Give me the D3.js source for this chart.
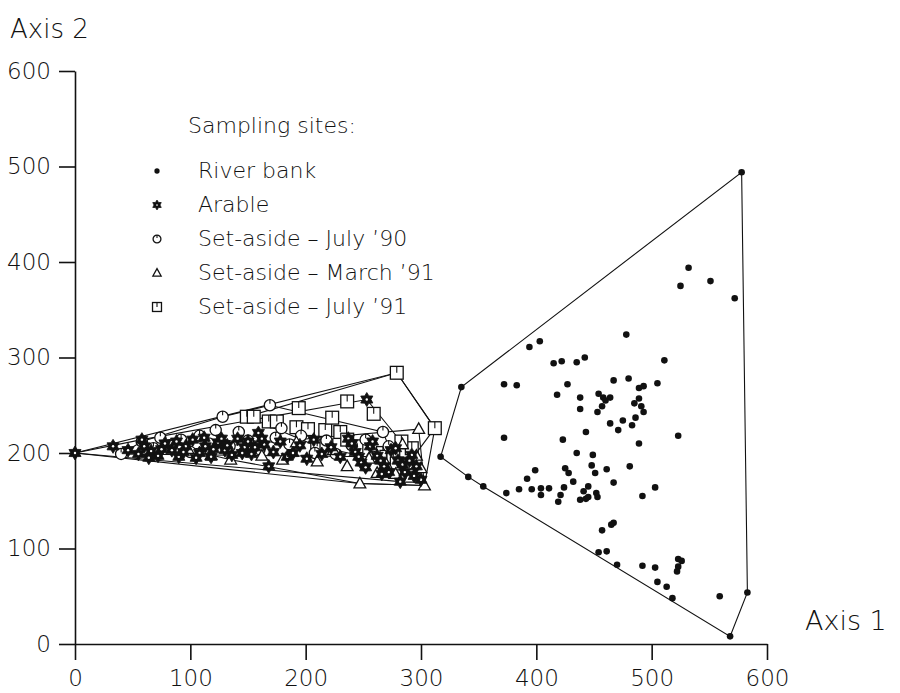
<!DOCTYPE html>
<html>
<head>
<meta charset="utf-8">
<script src="https://cdn.jsdelivr.net/npm/d3@7"></script>
<style>
  body { margin: 0; background: #fff; }
  svg text { font-family: "DejaVu Sans", sans-serif; font-weight: 200; fill: #111; }
</style>
</head>
<body>
<svg id="chart" width="900" height="693"></svg>
<script>
// Ordination scores (Axis 1, Axis 2) per sampling site group
const riverBank = [
  [578,494],[583,54],[568,8],[518,48],[470,83],[461,97],[454,96],[354,165],[341,175],[317,196],[335,269],
  [394,311],[403,317],[415,294],[422,296],[435,295],[442,300],[478,324],[532,394],[551,380],[525,375],[572,362],[511,297],
  [467,276],[480,278],[372,272],[383,271],[427,272],[505,273],[489,268],[493,270],[418,261],[438,258],[438,246],
  [454,262],[458,258],[464,258],[460,255],[457,249],[453,243],[485,252],[489,257],[491,249],[493,243],
  [464,231],[475,234],[486,237],[483,229],[471,224],[443,222],[423,214],[372,216],[489,210],[523,218],
  [435,200],[449,198],[448,187],[451,179],[461,183],[481,186],[399,182],[425,184],[428,179],[432,170],[392,173],[467,169],
  [503,164],[492,155],[385,162],[396,162],[404,163],[411,163],[404,156],[424,164],[421,156],[419,149],[374,158],
  [445,165],[441,160],[438,151],[443,152],[445,154],[452,158],[453,154],
  [467,127],[465,125],[457,119],[492,82],[503,80],[523,89],[526,87],[523,81],[522,76],[505,65],[513,60],[559,50]
];

const arable = [
  [0,200],[33,207],[46,203],[55,199],[60,207],[66,202],[72,197],[78,210],[84,203],[90,196],[96,207],
  [102,214],[108,200],[113,207],[118,196],[124,211],[130,203],[136,198],[141,215],[147,206],[153,199],
  [159,221],[164,209],[168,186],[172,201],[178,212],[184,196],[189,200],[195,208],[201,194],[207,214],
  [214,199],[222,206],[230,196],[237,215],[243,201],[248,190],[253,256],[256,207],[262,197],[268,186],
  [274,203],[280,192],[286,180],[292,198],[296,186],[300,172],
  [58,214],[64,195],[75,204],[88,212],[94,201],[105,195],[112,216],[120,204],[127,215],[132,208],
  [145,200],[150,212],[156,206],[162,215],[240,210],[246,196],[252,185],[258,212],[265,192],[272,180],
  [278,205],[284,188],[290,192],[294,176],[266,178],[282,170]
];

const setAsideJul90 = [
  [40,199],[58,212],[68,205],[74,216],[82,208],[92,214],[100,201],[108,218],[116,210],[122,224],
  [128,238],[134,207],[142,222],[150,213],[160,204],[169,250],[174,216],[179,226],[186,209],[196,218],
  [208,200],[218,213],[226,199],[240,208],[252,214],[267,222],[258,196],[272,207]
];

const setAsideMar91 = [
  [98,204],[118,198],[135,193],[150,204],[162,197],[180,193],[192,211],[210,191],[224,203],[236,186],
  [247,168],[255,194],[262,179],[270,188],[278,178],[284,209],[290,174],[296,197],[298,225],[300,184],[303,166]
];

const setAsideJul91 = [
  [149,238],[155,238],[168,233],[175,233],[192,227],[194,247],[202,225],[210,207],[217,224],[218,208],
  [223,237],[230,222],[236,254],[236,214],[244,207],[259,241],[267,200],[270,196],[276,196],[279,284],
  [279,189],[288,187],[312,226],[292,205],[283,212]
];

const xTicks = [0, 100, 200, 300, 400, 500, 600];
const yTicks = [0, 100, 200, 300, 400, 500, 600];
const legendTitle = "Sampling sites:";
const legendLabels = ["River bank", "Arable", "Set-aside \u2013 July \u201990", "Set-aside \u2013 March \u201991", "Set-aside \u2013 July \u201991"];

const svg = d3.select("#chart");
const x = d3.scaleLinear().domain([0, 600]).range([75, 767]);
const y = d3.scaleLinear().domain([0, 600]).range([644, 71]);

// Axes
function styleAxis(g) {
  g.attr("font-family", null).attr("font-size", null);
  g.selectAll("path.domain").attr("stroke", "#111").attr("stroke-width", 1.6);
  g.selectAll(".tick line").attr("stroke", "#111").attr("stroke-width", 1.6);
  g.selectAll(".tick text").style("font-size", "23px").attr("fill", "#111");
}
svg.append("g")
  .attr("transform", "translate(0,644)")
  .call(d3.axisBottom(x).tickValues(xTicks).tickSize(16).tickSizeOuter(0).tickPadding(10))
  .call(styleAxis);
svg.append("g")
  .attr("transform", "translate(75,0)")
  .call(d3.axisLeft(y).tickValues(yTicks).tickSize(16).tickSizeOuter(0).tickPadding(8))
  .call(styleAxis);

svg.append("text").attr("x", 10).attr("y", 38).style("font-size", "26px").text("Axis 2");
svg.append("text").attr("x", 805).attr("y", 630).style("font-size", "27px").text("Axis 1");

// Convex hulls
const toPx = p => [x(p[0]), y(p[1])];
function hullPath(points) {
  const h = d3.polygonHull(points.map(toPx));
  return "M" + h.map(p => p.join(",")).join("L") + "Z";
}
const hulls = svg.append("g").attr("fill", "none").attr("stroke", "#111").attr("stroke-width", 1.1);
const allFarmland = arable.concat(setAsideJul90, setAsideMar91, setAsideJul91);
[riverBank, allFarmland, arable, setAsideJul90, setAsideMar91, setAsideJul91].forEach(pts => {
  hulls.append("path").attr("d", hullPath(pts));
});

// Symbol drawers (k = scale factor)
function hexagram(r1, r2) {
  const pts = d3.range(12).map(i => {
    const a = i * Math.PI / 6 - Math.PI / 2;
    const r = i % 2 === 0 ? r1 : r2;
    return [r * Math.cos(a), r * Math.sin(a)];
  });
  return "M" + pts.map(p => p.map(v => v.toFixed(2)).join(",")).join("L") + "Z";
}
const drawers = {
  dot(g, k) { g.append("circle").attr("r", 3.3 * k).attr("fill", "#111"); },
  star(g, k) {
    g.append("path").attr("d", hexagram(7 * k, 4.2 * k)).attr("fill", "#111").attr("stroke", "#111").attr("stroke-width", 0.8);
    g.append("circle").attr("r", 1.2 * k).attr("fill", "#fff");
  },
  circle(g, k) {
    g.append("circle").attr("r", 5.6 * k).attr("fill", "#fff").attr("stroke", "#111").attr("stroke-width", 1.3);
    g.append("line").attr("x1", 0).attr("x2", 0).attr("y1", -5.6 * k).attr("y2", -1.5 * k).attr("stroke", "#111").attr("stroke-width", 1.1);
  },
  triangle(g, k) {
    const s = 6.2 * k;
    g.append("path").attr("d", `M0,${-s}L${s * 0.95},${s * 0.7}L${-s * 0.95},${s * 0.7}Z`)
      .attr("fill", "#fff").attr("stroke", "#111").attr("stroke-width", 1.3);
  },
  square(g, k) {
    const s = 6.4 * k;
    g.append("rect").attr("x", -s).attr("y", -s).attr("width", 2 * s).attr("height", 2 * s)
      .attr("fill", "#fff").attr("stroke", "#111").attr("stroke-width", 1.3);
    g.append("line").attr("x1", 0).attr("x2", 0).attr("y1", -s).attr("y2", 0).attr("stroke", "#111").attr("stroke-width", 1.1);
  }
};

const groups = [
  { data: setAsideJul91, sym: "square" },
  { data: setAsideJul90, sym: "circle" },
  { data: setAsideMar91, sym: "triangle" },
  { data: arable, sym: "star" },
  { data: riverBank, sym: "dot" }
];
groups.forEach(gr => {
  svg.append("g").selectAll("g").data(gr.data).join("g")
    .attr("transform", d => `translate(${x(d[0])},${y(d[1])})`)
    .each(function () { drawers[gr.sym](d3.select(this), 1); });
});

// Legend
const legend = svg.append("g");
legend.append("text").attr("x", 188).attr("y", 133).style("font-size", "22px").text(legendTitle);
const legendSyms = ["dot", "star", "circle", "triangle", "square"];
legendLabels.forEach((lab, i) => {
  const base = 178 + i * 34;
  const g = legend.append("g").attr("transform", `translate(157,${base - 7})`);
  drawers[legendSyms[i]](g, legendSyms[i] === "dot" ? 0.8 : 0.7);
  legend.append("text").attr("x", 198).attr("y", base).style("font-size", "22px").text(lab);
});
</script>
</body>
</html>
